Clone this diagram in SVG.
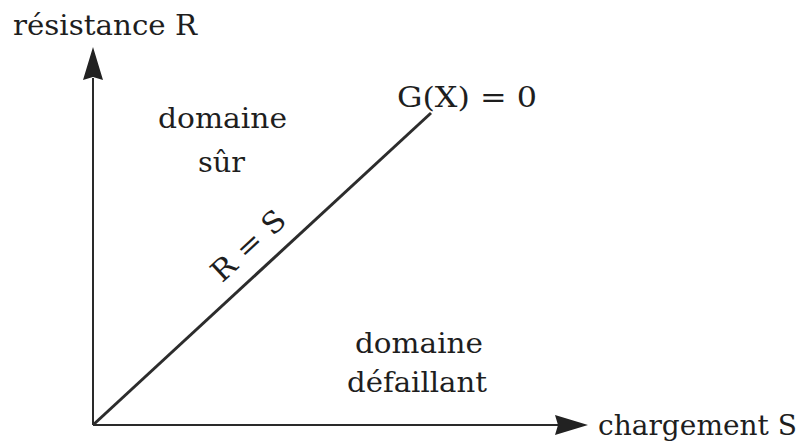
<svg xmlns="http://www.w3.org/2000/svg" width="806" height="448" viewBox="0 0 806 448">
<style>
.t{font-family:"DejaVu Serif","Liberation Serif",serif;font-size:27px;fill:#1e1e1e}
.ax{stroke:#2a2a2a;stroke-width:2;fill:none}
.ah{fill:#222}
</style>
<rect width="806" height="448" fill="#fff"/>
<g id="connectors">
<line class="ax" x1="93" y1="425" x2="93" y2="78"/>
<path class="ah" d="M93,47 L103,80 L93,77 L83,80 Z"/>
<line class="ax" x1="93" y1="425" x2="558" y2="425"/>
<path class="ah" d="M588,425 L555,435 L558,425 L555,415 Z"/>
<line x1="93" y1="425" x2="431" y2="113" stroke="#2c2c2c" stroke-width="3"/>
</g>
<g id="axis-r"><text class="t" x="13" y="35" textLength="184" lengthAdjust="spacingAndGlyphs">résistance R</text></g>
<g id="axis-s"><text class="t" x="598" y="435" textLength="199" lengthAdjust="spacingAndGlyphs">chargement S</text></g>
<g id="safe">
<text class="t" x="158" y="128" textLength="129" lengthAdjust="spacingAndGlyphs">domaine</text>
<text class="t" x="198" y="172" textLength="47" lengthAdjust="spacingAndGlyphs">sûr</text>
</g>
<g id="fail">
<text class="t" x="355" y="353" textLength="128" lengthAdjust="spacingAndGlyphs">domaine</text>
<text class="t" x="347" y="392" textLength="140" lengthAdjust="spacingAndGlyphs">défaillant</text>
</g>
<g id="limit"><text class="t" x="397" y="107" textLength="140" lengthAdjust="spacingAndGlyphs">G(X) = 0</text></g>
<g id="rs"><text class="t" x="255" y="253" text-anchor="middle" textLength="90" lengthAdjust="spacingAndGlyphs" transform="rotate(-42.7 255 253)" style="font-size:29px">R = S</text></g>
</svg>
